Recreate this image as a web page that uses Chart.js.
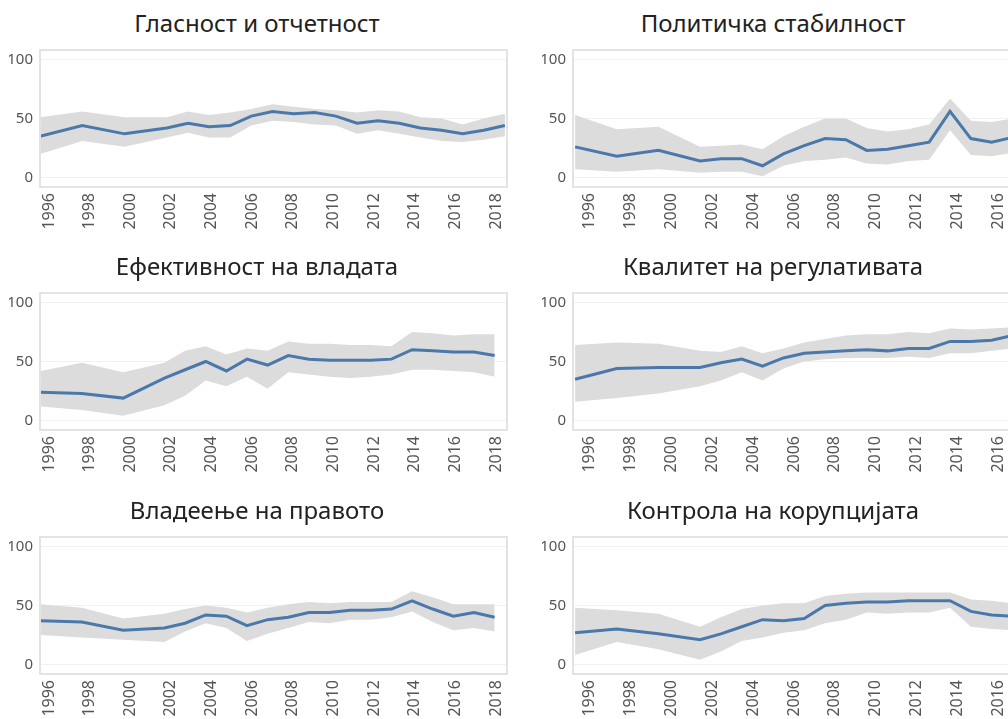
<!DOCTYPE html>
<html lang="mk">
<head>
<meta charset="utf-8">
<script src="https://cdn.jsdelivr.net/npm/chart.js@4.4.0/dist/chart.umd.min.js"></script>
<style>
  body { margin: 0; width: 1008px; height: 719px; overflow: hidden; background: #fff; font-family: "Noto Sans", sans-serif; }
  .panel { position: absolute; }
  .panel h2 { position: absolute; left: 0; top: 0; margin: 0; height: 45px; line-height: 45px; font-size: 24px; font-weight: normal; color: #222; text-align: center; white-space: nowrap; }
  .panel canvas { position: absolute; top: 40px; left: 0; }
</style>
</head>
<body>
<script>
// years with WGI estimates
const years = [1996, 1998, 2000, 2002, 2003, 2004, 2005, 2006, 2007, 2008, 2009, 2010, 2011, 2012, 2013, 2014, 2015, 2016, 2017, 2018];
const tickYears = [1996, 1998, 2000, 2002, 2004, 2006, 2008, 2010, 2012, 2014, 2016, 2018];
const yTicks = [0, 50, 100];

const titles = ['Гласност и отчетност', 'Политичка стабилност', 'Ефективност на владата',
  'Квалитет на регулативата', 'Владеење на правото', 'Контрола на корупцијата'];

// percentile rank, lower and upper bound of the interval
const voiceMid  = [35, 44, 37, 42, 46, 43, 44, 52, 56, 54, 55, 52, 46, 48, 46, 42, 40, 37, 40, 44];
const voiceLow  = [20, 31, 26, 34, 38, 34, 34, 44, 48, 47, 45, 44, 37, 40, 37, 34, 31, 30, 32, 35];
const voiceHigh = [51, 56, 51, 51, 56, 53, 55, 58, 62, 60, 58, 57, 55, 57, 56, 51, 50, 45, 50, 54];

const polMid  = [26, 18, 23, 14, 16, 16, 10, 20, 27, 33, 32, 23, 24, 27, 30, 56, 33, 30, 34, 37];
const polLow  = [7, 5, 7, 4, 5, 5, 1, 10, 14, 15, 17, 12, 11, 14, 15, 40, 19, 18, 21, 22];
const polHigh = [53, 41, 43, 26, 27, 28, 24, 35, 43, 50, 50, 42, 39, 41, 45, 67, 48, 47, 50, 52];

const govMid  = [24, 23, 19, 36, 43, 50, 42, 52, 47, 55, 52, 51, 51, 51, 52, 60, 59, 58, 58, 55];
const govLow  = [12, 9, 4, 13, 21, 34, 29, 37, 27, 41, 39, 37, 36, 37, 39, 43, 43, 42, 41, 37];
const govHigh = [42, 49, 41, 49, 59, 63, 56, 61, 59, 67, 65, 65, 64, 64, 63, 75, 74, 72, 73, 73];

const regMid  = [35, 44, 45, 45, 49, 52, 46, 53, 57, 58, 59, 60, 59, 61, 61, 67, 67, 68, 72, 73];
const regLow  = [16, 19, 23, 29, 34, 41, 34, 44, 50, 52, 53, 53, 53, 54, 53, 57, 57, 59, 61, 62];
const regHigh = [64, 66, 65, 59, 58, 63, 57, 61, 66, 69, 72, 73, 73, 75, 74, 78, 77, 78, 79, 80];

const lawMid  = [37, 36, 29, 31, 35, 42, 41, 33, 38, 40, 44, 44, 46, 46, 47, 54, 47, 41, 44, 40];
const lawLow  = [25, 23, 21, 19, 28, 35, 31, 20, 26, 31, 36, 35, 38, 38, 40, 45, 36, 29, 31, 28];
const lawHigh = [51, 48, 39, 43, 47, 50, 48, 44, 48, 51, 53, 52, 53, 53, 53, 62, 57, 51, 51, 51];

const corMid  = [27, 30, 26, 21, 26, 32, 38, 37, 39, 50, 52, 53, 53, 54, 54, 54, 45, 42, 41, 40];
const corLow  = [8, 19, 13, 4, 11, 20, 23, 27, 29, 35, 38, 44, 43, 44, 44, 48, 32, 30, 29, 29];
const corHigh = [48, 46, 43, 32, 40, 47, 50, 52, 52, 58, 60, 61, 61, 61, 61, 61, 55, 54, 52, 52];

const panels = [
  {title: titles[0], mid: voiceMid, low: voiceLow, high: voiceHigh, col: 0, row: 0, xMin: 1996, xMax: 2018.1},
  {title: titles[1], mid: polMid, low: polLow, high: polHigh, col: 1, row: 0, xMin: 1995.9, xMax: 2018.32},
  {title: titles[2], mid: govMid, low: govLow, high: govHigh, col: 0, row: 1, xMin: 1995.97, xMax: 2018.6},
  {title: titles[3], mid: regMid, low: regLow, high: regHigh, col: 1, row: 1, xMin: 1995.9, xMax: 2018.32},
  {title: titles[4], mid: lawMid, low: lawLow, high: lawHigh, col: 0, row: 2, xMin: 1995.97, xMax: 2018.6},
  {title: titles[5], mid: corMid, low: corLow, high: corHigh, col: 1, row: 2, xMin: 1995.9, xMax: 2018.32}
];

const columns = [
  {left: 0, w: 510, titleW: 514, padR: 3, labelMin: 1995.56, labelMax: 2018.54},
  {left: 533, w: 520, titleW: 480, padR: 13, labelMin: 1995.17, labelMax: 2018.06}
];
const rowTops = [0, 243, 487];

Chart.defaults.font.family = '"Noto Sans", sans-serif';

// light frame round the plot area
const frame = {
  id: 'frame',
  afterDatasetsDraw: function (chart) {
    const a = chart.chartArea, ctx = chart.ctx;
    ctx.save();
    ctx.strokeStyle = '#e3e3e3';
    ctx.lineWidth = 2;
    ctx.strokeRect(a.left, a.top, a.right - a.left, a.bottom - a.top);
    ctx.restore();
  }
};

function pts(arr) {
  return years.map(function (x, i) { return {x: x, y: arr[i]}; });
}

panels.forEach(function (p) {
  const col = columns[p.col];

  const div = document.createElement('div');
  div.className = 'panel';
  div.style.left = col.left + 'px';
  div.style.top = rowTops[p.row] + 'px';

  const h = document.createElement('h2');
  h.style.width = col.titleW + 'px';
  h.textContent = p.title;
  div.appendChild(h);

  const cv = document.createElement('canvas');
  cv.width = col.w;
  cv.height = 205;
  div.appendChild(cv);
  document.body.appendChild(div);

  new Chart(cv, {
    type: 'line',
    data: {
      datasets: [
        {data: pts(p.mid), xAxisID: 'x', yAxisID: 'y', borderColor: '#4a78ab', borderWidth: 3, pointRadius: 0, tension: 0, fill: false},
        {data: pts(p.high), xAxisID: 'x', yAxisID: 'y', borderColor: 'transparent', borderWidth: 0, pointRadius: 0, backgroundColor: '#dcdcdc', fill: '+1'},
        {data: pts(p.low), xAxisID: 'x', yAxisID: 'y', borderColor: 'transparent', borderWidth: 0, pointRadius: 0, fill: false}
      ]
    },
    options: {
      responsive: false,
      animation: false,
      layout: {padding: {left: 9, right: col.padR, top: 10, bottom: 0}},
      plugins: {legend: {display: false}, tooltip: {enabled: false}},
      scales: {
        x: {type: 'linear', display: false, min: p.xMin, max: p.xMax},
        xl: {
          type: 'linear', axis: 'x', position: 'bottom', min: col.labelMin, max: col.labelMax,
          afterBuildTicks: function (s) { s.ticks = tickYears.map(function (v) { return {value: v}; }); },
          afterFit: function (s) { s.height = 58; s.paddingLeft = 0; s.paddingRight = 0; },
          grid: {display: false, drawTicks: false},
          border: {display: false},
          ticks: {minRotation: 90, maxRotation: 90, autoSkip: false, padding: 6, color: '#555', font: {size: 16},
            callback: function (v) { return String(v); }}
        },
        y: {
          min: -8, max: 108,
          afterBuildTicks: function (s) { s.ticks = yTicks.map(function (v) { return {value: v}; }); },
          afterFit: function (s) { s.width = 31; s.paddingTop = 0; s.paddingBottom = 0; },
          grid: {color: '#f1f1f1', drawTicks: false},
          border: {display: false},
          ticks: {padding: 7, color: '#555', font: {size: 15}}
        }
      }
    },
    plugins: [frame]
  });
});
</script>
</body>
</html>
